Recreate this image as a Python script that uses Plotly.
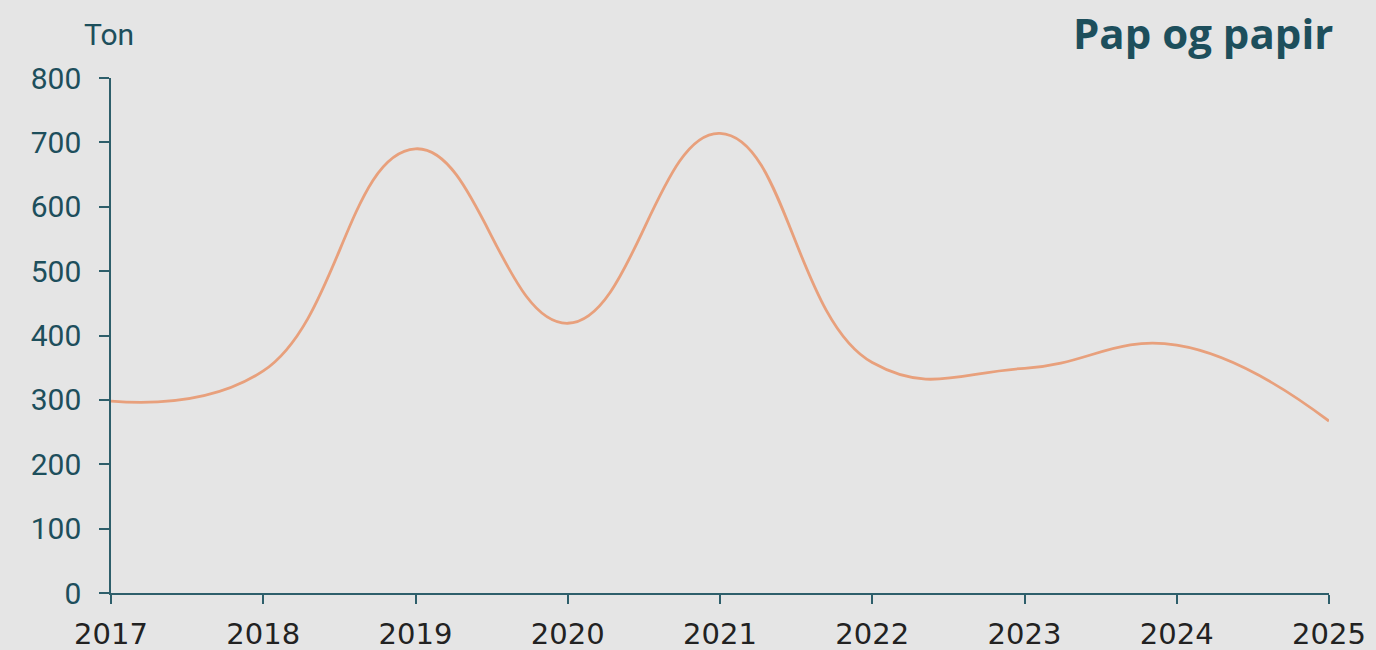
import plotly.graph_objects as go

years = [2017, 2018, 2019, 2020, 2021, 2022, 2023, 2024, 2025]
tons = [298, 345, 690, 419, 714, 358, 349, 385, 267]
y_ticks = [0, 100, 200, 300, 400, 500, 600, 700, 800]
title_text = "Pap og papir"
unit_text = "Ton"

teal = "#1d4f5c"
bg = "#e5e5e5"

fig = go.Figure()
fig.add_trace(go.Scatter(
    x=years, y=tons, mode="lines",
    line=dict(color="#e8a07c", width=2.8, shape="spline", smoothing=1.25),
    hoverinfo="x+y", showlegend=False,
))

fig.update_layout(
    width=1376, height=650,
    paper_bgcolor=bg, plot_bgcolor=bg,
    margin=dict(l=111, r=47, t=78, b=57, autoexpand=False),
    xaxis=dict(
        range=[2017, 2025], tickmode="array", tickvals=years,
        ticktext=[str(y) for y in years],
        showgrid=False, zeroline=False, automargin=False,
        showline=True, linecolor="#2e5f6b", linewidth=1.5,
        ticks="outside", ticklen=9, tickwidth=1.5, tickcolor="#2e5f6b",
        tickfont=dict(family="DejaVu Sans", size=29, color="#222222"),
        ticklabelstandoff=5,
    ),
    yaxis=dict(
        range=[0, 800], tickmode="array", tickvals=y_ticks,
        showgrid=False, zeroline=False, automargin=False,
        showline=True, linecolor="#2e5f6b", linewidth=1.5,
        ticks="outside", ticklen=10, tickwidth=1.5, tickcolor="#2e5f6b",
        tickfont=dict(family="Roboto", size=30, color=teal),
        ticklabelstandoff=12,
    ),
    annotations=[
        dict(text=unit_text, xref="paper", yref="paper",
             x=-0.024, y=1.0, xanchor="left", yanchor="bottom", yshift=24,
             showarrow=False, font=dict(family="Roboto", size=30, color=teal)),
        dict(text="<b>" + title_text + "</b>", xref="paper", yref="paper",
             x=1.0, y=1.0, xanchor="right", yanchor="bottom", yshift=15, xshift=6,
             showarrow=False, font=dict(family="Open Sans", size=42, color=teal)),
    ],
)

fig.write_html(
    "out.html",
    config={"displayModeBar": False},
    post_script="document.body.style.margin='0';document.body.style.background='%s';" % bg,
)
